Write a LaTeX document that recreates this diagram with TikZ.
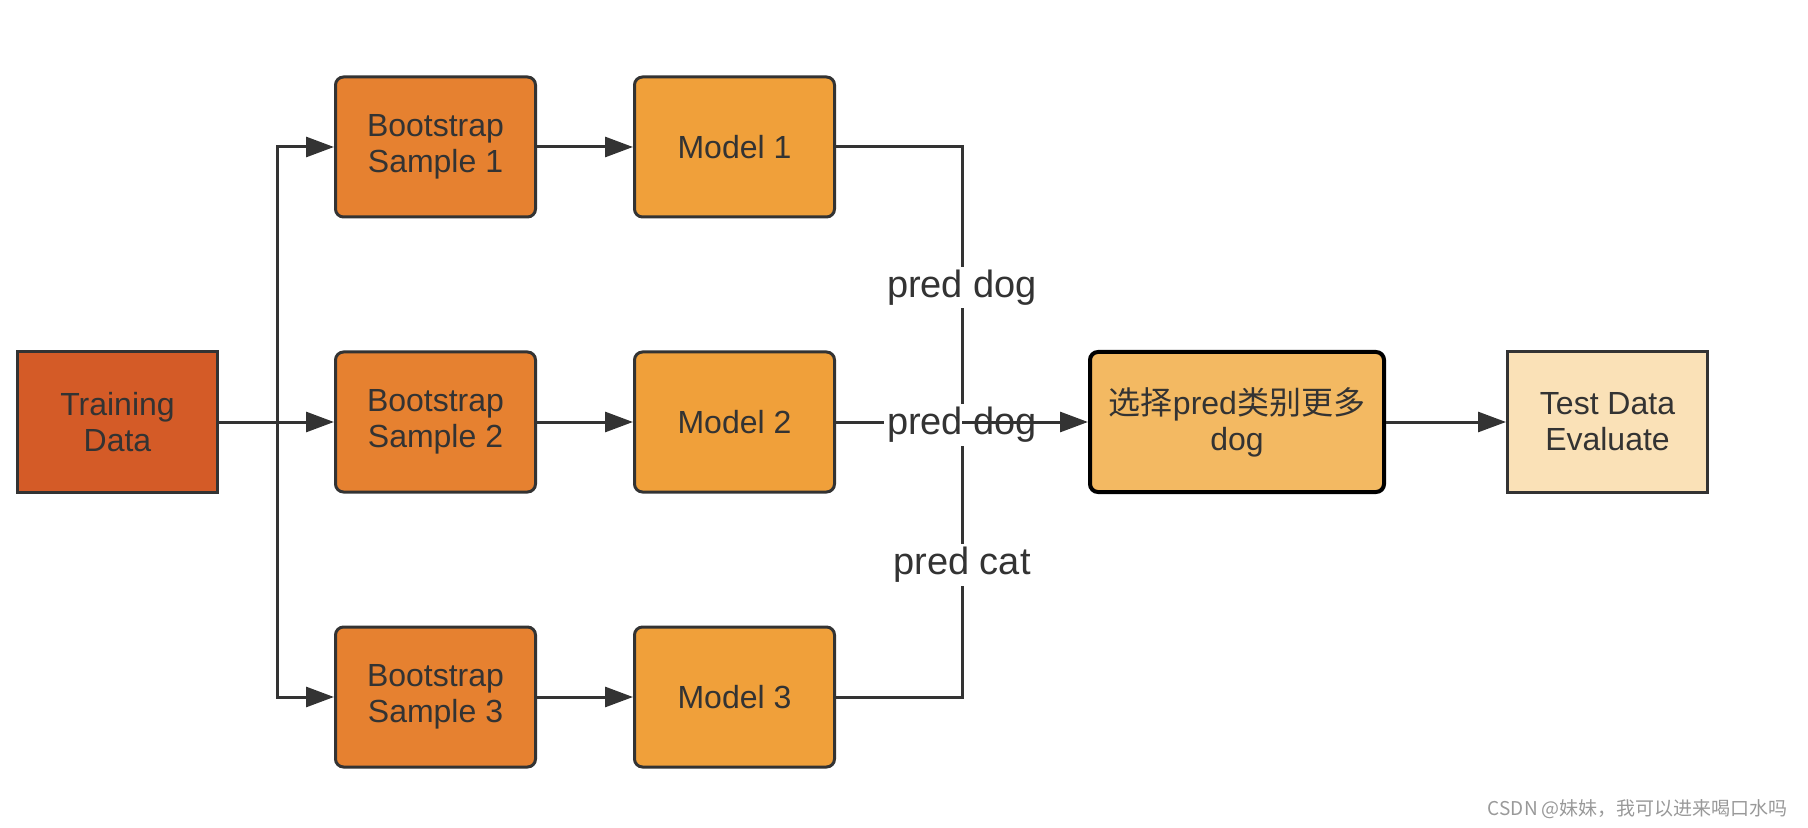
\documentclass[tikz,border=0pt]{standalone}
\usepackage{fontspec}
\setmainfont{Liberation Sans}
\newfontfamily\cjk{Noto Sans CJK SC}
\usepackage{tikz}
\usetikzlibrary{positioning,arrows.meta}
\definecolor{ink}{HTML}{333333}
\definecolor{ctrain}{HTML}{D45B27}
\definecolor{cboot}{HTML}{E68130}
\definecolor{cmodel}{HTML}{F0A03A}
\definecolor{cvote}{HTML}{F3B962}
\definecolor{ctest}{HTML}{FAE1B7}
\tikzset{
  blk/.style={rectangle, draw=ink, line width=1.5pt, text=ink, inner sep=0pt,
              minimum width=100pt, minimum height=70pt, align=center,
              font=\fontsize{16}{18}\selectfont},
  train/.style={blk, fill=ctrain},
  boot/.style={blk, rounded corners=4pt, fill=cboot},
  model/.style={blk, rounded corners=4pt, fill=cmodel},
  vote/.style={blk, rounded corners=4pt, fill=cvote, draw=black, line width=2pt,
               minimum width=147pt},
  evalbox/.style={blk, fill=ctest},
  flow/.style={-{Triangle[length=14pt,width=10pt]}, line width=1.5pt, draw=ink},
  merge/.style={line width=1.5pt, draw=ink},
  lbl/.style={fill=white, text=ink, inner sep=1.5pt, font=\fontsize{19}{22}\selectfont}
}
\begin{document}
\begin{tikzpicture}[x=0.5pt, y=-0.5pt, node distance=66pt and 48pt]
\useasboundingbox (0,0) rectangle (1808,828);
\node[train] (td) at (117.5,422) {Training\\Data};
\node[boot, right=57.5pt of td] (bs2) {Bootstrap\\Sample 2};
\node[boot, above=of bs2] (bs1) {Bootstrap\\Sample 1};
\node[boot, below=of bs2] (bs3) {Bootstrap\\Sample 3};
\node[model, right=of bs1] (m1) {Model 1};
\node[model, right=of bs2] (m2) {Model 2};
\node[model, right=of bs3] (m3) {Model 3};
\node[vote, right=126pt of m2] (vt) {{\cjk 选择}pred{\cjk 类别更多}\\dog};
\node[evalbox, right=60pt of vt] (ev) {Test Data\\Evaluate};
\coordinate[right=29pt of td] (sp);
\coordinate[right=63pt of m2] (j);
\draw[flow] (td)--(bs2);\draw[flow] (sp)|-(bs1);\draw[flow] (sp)|-(bs3);
\draw[flow] (bs1)--(m1);\draw[flow] (bs2)--(m2);\draw[flow] (bs3)--(m3);
\draw[merge] (m1.east) -| node[lbl, pos=0.755] {pred dog} (j);
\draw[merge] (m3.east) -| node[lbl, pos=0.74] {pred cat} (j);
\draw[merge] (m2.east) -- (j) node[lbl, yshift=-1.5pt] {pred dog};
\draw[flow] (j)--(vt);\draw[flow] (vt)--(ev);
% watermark
\node[anchor=east, text=black!40, font=\cjk\fontsize{9.5}{11}\selectfont] (wm) at (1795,809)
  {CSDN @妹妹，我可以进来喝口水吗};
\end{tikzpicture}
\end{document}
